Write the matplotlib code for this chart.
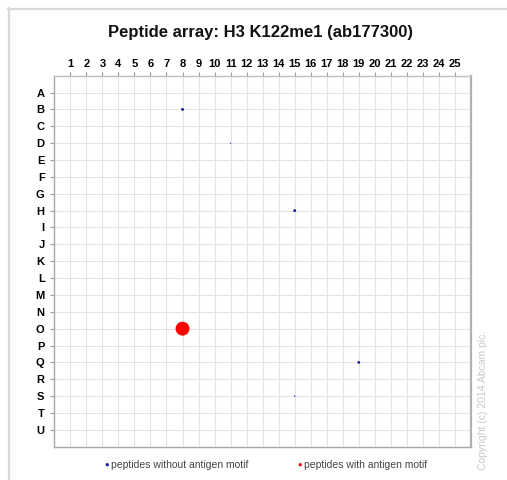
import matplotlib
matplotlib.use("Agg")
import matplotlib.pyplot as plt
from matplotlib.lines import Line2D

plt.rcParams['font.family'] = ['Liberation Sans', 'DejaVu Sans']

title = "Peptide array: H3 K122me1 (ab177300)"
columns = list(range(1, 26))
rows = list("ABCDEFGHIJKLMNOPQRSTU")

# spots: (column, row, size, has antigen motif)
spot_cols = [8, 11, 15, 8, 19, 15]
spot_rows = ["B", "D", "H", "O", "Q", "S"]
spot_sizes = [4.5, 0.8, 4.5, 100, 4.0, 1.0]
spot_motif = [False, False, False, True, False, False]
legend_labels = ["peptides without antigen motif", "peptides with antigen motif"]
copyright_text = "Copyright (c) 2014 Abcam plc."

W, H = 507, 480
fig = plt.figure(figsize=(W / 100, H / 100), dpi=100)
fig.patch.set_facecolor("white")

# outer frame (top and left edges)
fig.add_artist(Line2D([8 / W, 1], [1 - 8.5 / H, 1 - 8.5 / H], color="#d9d9d9", lw=1.6,
                      transform=fig.transFigure))
fig.add_artist(Line2D([8.5 / W, 8.5 / W], [0, 1 - 8 / H], color="#d9d9d9", lw=1.6,
                      transform=fig.transFigure))

left, right, top, bottom = 54.3, 471, 75.7, 446.7
ax = fig.add_axes([left / W, 1 - bottom / H, (right - left) / W, (bottom - top) / H])

ax.set_xlim(0, 26)
ax.set_ylim(len(rows), -1)

ax.set_xticks(columns)
ax.set_xticklabels([str(c) for c in columns], fontsize=8, fontweight="bold")
ax.set_yticks(range(len(rows)))
ax.set_yticklabels(rows, fontsize=8, fontweight="bold")
ax.xaxis.tick_top()
ax.tick_params(axis="x", length=3, color="#999999", pad=2)
ax.tick_params(axis="y", length=3, color="#999999", pad=4)

ax.grid(True, color="#e4e4e4", lw=0.8)
ax.set_axisbelow(True)

for s in ["left", "bottom", "top"]:
    ax.spines[s].set_color("#a8a8a8")
    ax.spines[s].set_linewidth(1.0)
ax.spines["top"].set_color("#c0c0c0")
ax.spines["right"].set_color("#b0b0b0")
ax.spines["right"].set_linewidth(1.6)

row_idx = {r: i for i, r in enumerate(rows)}
for c, r, s, m in zip(spot_cols, spot_rows, spot_sizes, spot_motif):
    ax.scatter([c], [row_idx[r]], s=s, color="#ff0000" if m else "#1a1aa0",
               edgecolors="none", zorder=3)

fig.text(260 / W, 1 - 33 / H, title, ha="center", va="center", fontsize=12, fontweight="bold",
         color="#111111")

# legend
ly = 1 - 465 / H
fig.text(107 / W, ly, "\u25CF", ha="center", va="center", fontsize=5.5, color="#1a1ab0")
fig.text(111 / W, ly, legend_labels[0], ha="left", va="center", fontsize=7.5, color="#444444")
fig.text(300 / W, ly, "\u25CF", ha="center", va="center", fontsize=5.5, color="#ff0000")
fig.text(304 / W, ly, legend_labels[1], ha="left", va="center", fontsize=7.5, color="#444444")

fig.text(483 / W, 1 - 400 / H, copyright_text, rotation=90, ha="center", va="center",
         fontsize=7.5, color="#c8c8c8")

fig.savefig("out.png", dpi=100, facecolor="white")
